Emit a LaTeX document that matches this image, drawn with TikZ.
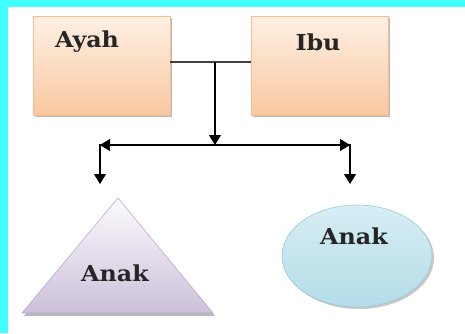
\documentclass[tikz,border=0pt]{standalone}
\usepackage{fontspec}
\newfontfamily\labfont[FakeStretch=1.08]{DejaVu Serif}
\usetikzlibrary{arrows.meta,shadows}
\definecolor{cyanbg}{RGB}{64,255,255}
\definecolor{peachtop}{RGB}{254,240,228}
\definecolor{peachbot}{RGB}{249,200,160}
\definecolor{peachline}{RGB}{246,190,145}
\definecolor{lavtop}{RGB}{252,250,253}
\definecolor{lavbot}{RGB}{204,192,218}
\definecolor{lavline}{RGB}{185,170,205}
\definecolor{bluetop}{RGB}{215,238,244}
\definecolor{bluebot}{RGB}{180,220,231}
\definecolor{blueline}{RGB}{150,200,215}
\tikzset{
  lab/.style={font=\labfont\bfseries\fontsize{22}{24}\selectfont, text=black!85, inner sep=0pt},
  parentbox/.style={draw=peachline, line width=0.6pt, top color=peachtop, bottom color=peachbot,
     minimum width=137pt, minimum height=99pt, inner sep=0pt,
     drop shadow={shadow xshift=1.5pt, shadow yshift=-2pt, fill=black!45, opacity=0.6}},
  arr/.style={line width=1.1pt, black, -{Triangle[width=12pt,length=10pt]}},
  joinline/.style={line width=1.1pt, black!75}
}
\begin{document}
\begin{tikzpicture}[x=1pt,y=-1pt]
\fill[cyanbg] (0,0) rectangle (465,333);
\fill[white] (8,7) rectangle (465,333);
\useasboundingbox (0,0) rectangle (465,333);
% parent boxes
\node[parentbox] (ayah) at (101.5,65.5) {};
\node[parentbox] (ibu) at (320,65.5) {};
\node[lab] (ayahlab) at (87,42) {Ayah};
\node[lab] (ibulab) at (318,42) {Ibu};
% connectors
\draw[joinline] ([yshift=3.5pt]ayah.east) -- coordinate (mid) ([yshift=3.5pt]ibu.west);
\coordinate (split) at (215,145);
\coordinate (L) at (100,145);
\coordinate (R) at (350,145);
\coordinate (Ld) at (100,184);
\coordinate (Rd) at (350,184);
\draw[arr] (mid -| split) -- (split);
\draw[arr] (split) -- (L);
\draw[arr] (split) -- (R);
\draw[arr] ([yshift=0.55pt]L) -- (Ld);
\draw[arr] ([yshift=0.55pt]R) -- (Rd);
% triangle child
\fill[black!40, opacity=0.7] (24,316) -- (118,201) -- (215,316) -- cycle;
\draw[lavline, line width=0.6pt, top color=lavtop, bottom color=lavbot] (22,313) -- (118,198) -- (213,313) -- cycle;
\node[lab] (tri) at (115,273) {Anak};
% ellipse child
\fill[black!35, opacity=0.6] (359,258) ellipse [x radius=75, y radius=51];
\draw[blueline, line width=0.6pt, top color=bluetop, bottom color=bluebot] (357,256) ellipse [x radius=75, y radius=51];
\node[lab] (ell) at (354,236) {Anak};
\end{tikzpicture}
\end{document}
